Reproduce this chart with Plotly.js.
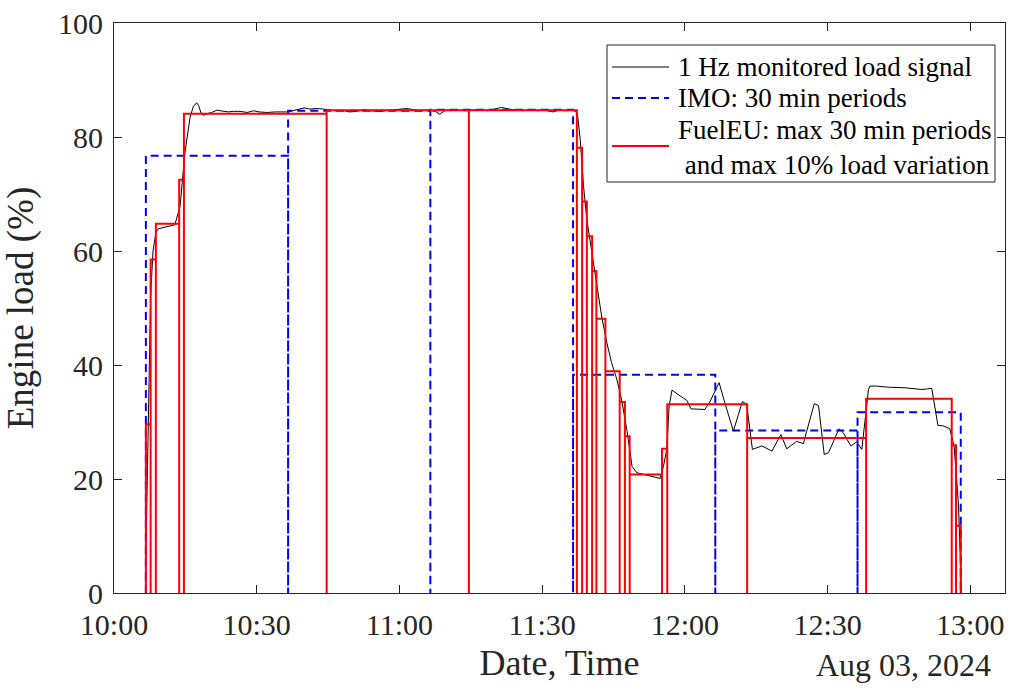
<!DOCTYPE html>
<html>
<head>
<meta charset="utf-8">
<script src="https://cdn.plot.ly/plotly-3.0.1.min.js"></script>
<style>html,body{margin:0;padding:0;background:#fff;}#chart{width:1022px;height:695px;}</style>
</head>
<body>
<div id="chart"></div>
<script>
// Minutes after 10:00 on 2024-08-03
const signalMinutes = [6.6, 6.9, 7.7, 8.2, 8.8, 9.3, 11.0, 12.8, 13.9, 14.9, 16.0, 16.7, 17.4, 17.8, 18.3, 18.8, 19.6, 20.5, 21.6, 23.0, 24.0, 25.1, 26.5, 28.0, 29.3, 30.5, 32.1, 34.0, 36.3, 37.5, 39.0, 40.0, 41.2, 42.5, 44.0, 45.0, 46.5, 48.0, 49.5, 51.0, 52.5, 54.0, 55.5, 57.0, 58.5, 60.0, 61.5, 63.0, 64.5, 66.0, 67.5, 68.5, 69.5, 71.0, 72.5, 74.0, 75.5, 77.0, 78.5, 80.0, 81.5, 83.0, 84.5, 86.0, 87.5, 89.0, 90.5, 92.3, 93.5, 95.0, 96.6, 97.4, 98.0, 98.7, 99.4, 100.4, 101.5, 102.5, 103.6, 104.6, 105.7, 106.7, 107.8, 108.9, 109.9, 111.3, 112.7, 114.8, 115.5, 116.2, 116.7, 117.3, 118.6, 120.4, 121.3, 124.2, 125.3, 127.2, 128.4, 130.2, 132.1, 133.0, 134.2, 136.2, 138.3, 140.2, 141.4, 143.5, 144.9, 147.2, 148.1, 149.3, 150.2, 152.4, 153.3, 154.9, 156.1, 157.2, 158.6, 158.9, 160.3, 162.8, 166.3, 169.8, 171.9, 173.2, 174.4, 175.7, 176.6, 177.5, 178.0, 178.1];
const signalLoad = [2, 14, 52, 60, 63.2, 63.9, 64.3, 64.6, 67.9, 77.2, 83.5, 85.4, 86.0, 85.5, 84.2, 83.8, 84.1, 84.3, 84.7, 84.6, 84.4, 84.5, 84.5, 84.3, 84.6, 84.4, 84.3, 84.4, 84.4, 84.6, 84.9, 85.1, 84.9, 85.0, 84.9, 84.8, 84.6, 84.7, 84.4, 84.5, 84.8, 84.6, 84.5, 84.6, 84.7, 84.9, 85.0, 84.8, 84.6, 84.7, 84.5, 84.0, 84.6, 84.8, 84.7, 84.6, 84.7, 84.8, 84.6, 84.9, 85.2, 84.9, 84.7, 84.6, 84.8, 84.6, 84.7, 84.4, 84.7, 84.6, 84.7, 84.2, 79.6, 71.4, 65.5, 60.3, 53.8, 48.6, 43.9, 40.4, 37.5, 33.9, 28.7, 22.2, 21.1, 20.8, 20.5, 20.1, 22.2, 25.2, 32.8, 35.6, 34.8, 33.8, 32.3, 32.2, 33.6, 36.9, 33.4, 28.4, 33.6, 33.1, 25.2, 25.8, 24.9, 27.8, 25.3, 26.6, 26.2, 33.2, 32.9, 24.3, 24.6, 28.8, 28.1, 25.8, 26.5, 25.2, 35.7, 36.3, 36.3, 36.1, 36.0, 35.7, 35.9, 29.4, 29.3, 28.8, 25.8, 15.8, 4.1, 0];

const imoBounds = [6.7, 36.6, 66.5, 96.5, 126.4, 156.3, 178.0];
const imoLoad = [76.7, 84.6, 84.8, 38.3, 28.5, 31.7];

const fuelBounds = [6.7, 7.7, 8.8, 13.7, 14.7, 44.7, 74.6, 97.3, 98.4, 99.4, 100.5, 101.4, 103.3, 106.3, 107.4, 108.4, 115.2, 116.3, 133.1, 158.1, 176.1, 177.0, 178.0];
const fuelLoad = [29.6, 58.5, 64.8, 72.5, 84.1, 84.7, 84.7, 78.1, 68.7, 62.6, 56.5, 48.1, 38.9, 33.5, 27.5, 20.8, 25.3, 33.1, 27.2, 34.1, 25.9, 11.8];

const yTicks = [0, 20, 40, 60, 80, 100];
const xTickLabels = ['10:00', '10:30', '11:00', '11:30', '12:00', '12:30', '13:00'];
const seriesNames = ['1 Hz monitored load signal', 'IMO: 30 min periods', 'FuelEU: max 30 min periods', ' and max 10% load variation'];

const base = Date.UTC(2024, 7, 3, 10, 0, 0);
function toTime(m) {
  return new Date(base + Math.round(m * 60000)).toISOString().replace('T', ' ').replace('Z', '');
}
function boxes(bounds, vals) {
  const xs = [], ys = [];
  for (let i = 0; i < vals.length; i++) {
    xs.push(toTime(bounds[i]), toTime(bounds[i]), toTime(bounds[i + 1]), toTime(bounds[i + 1]));
    ys.push(0, vals[i], vals[i], 0);
  }
  return {xs, ys};
}
const imo = boxes(imoBounds, imoLoad);
const fuel = boxes(fuelBounds, fuelLoad);
const tickVals = xTickLabels.map(s => '2024-08-03 ' + s + ':00');

const FONT = 'Liberation Serif, Times New Roman, serif';
const styles = [
  {color: '#000000', width: 1},
  {color: '#0000ff', width: 2, dash: '8px,5px'},
  {color: '#ff0000', width: 2}
];
const traces = [
  {x: signalMinutes.map(toTime), y: signalLoad, type: 'scatter', mode: 'lines',
   name: seriesNames[0], line: styles[0], showlegend: false},
  {x: imo.xs, y: imo.ys, type: 'scatter', mode: 'lines',
   name: seriesNames[1], line: styles[1], showlegend: false},
  {x: fuel.xs, y: fuel.ys, type: 'scatter', mode: 'lines',
   name: seriesNames[2] + seriesNames[3], line: styles[2], showlegend: false}
];

// Legend drawn as a boxed key (paper coordinates)
const P = (px) => (px - 114) / 891;
const Q = (py) => (593 - py) / 570;
const keyRows = [67, 98, 146];
const shapes = [
  {type: 'rect', xref: 'paper', yref: 'paper', x0: P(607), x1: P(995), y0: Q(182), y1: Q(45),
   fillcolor: '#ffffff', line: {color: '#262626', width: 1}, layer: 'above'}
];
keyRows.forEach((r, i) => {
  shapes.push({type: 'line', xref: 'paper', yref: 'paper', x0: P(612), x1: P(669), y0: Q(r), y1: Q(r),
    line: Object.assign({}, styles[i]), layer: 'above'});
});
const keyText = [
  {t: seriesNames[0], x: 676, y: 67},
  {t: seriesNames[1], x: 676, y: 98},
  {t: seriesNames[2], x: 676, y: 130},
  {t: seriesNames[3], x: 676, y: 165}
];
const annotations = keyText.map(k => ({text: k.t, xref: 'paper', yref: 'paper', x: P(k.x), y: Q(k.y),
  xanchor: 'left', yanchor: 'middle', showarrow: false,
  font: {family: FONT, size: 27, color: '#000000'}}));
annotations.push({text: 'Aug 03, 2024', xref: 'paper', yref: 'paper', x: 0.886, y: -0.126,
  xanchor: 'center', yanchor: 'middle', showarrow: false,
  font: {family: FONT, size: 32, color: '#262626'}});

const layout = {
  width: 1022, height: 695,
  margin: {l: 114, r: 17, t: 23, b: 102},
  paper_bgcolor: '#ffffff', plot_bgcolor: '#ffffff',
  font: {family: FONT, color: '#262626', size: 30},
  showlegend: false,
  xaxis: {type: 'date', range: [toTime(0), toTime(187.3)],
    tickvals: tickVals, ticktext: xTickLabels,
    ticks: 'inside', ticklen: 8, tickcolor: '#262626', tickwidth: 1,
    showline: true, linecolor: '#262626', linewidth: 1, mirror: 'ticks',
    showgrid: false, zeroline: false, ticklabelstandoff: 5,
    tickfont: {family: FONT, size: 30, color: '#262626'},
    title: {text: 'Date, Time', font: {family: FONT, size: 36, color: '#262626'}, standoff: 9}},
  yaxis: {range: [0, 100], tickvals: yTicks,
    ticks: 'inside', ticklen: 8, tickcolor: '#262626', tickwidth: 1,
    showline: true, linecolor: '#262626', linewidth: 1, mirror: 'ticks',
    showgrid: false, zeroline: false, ticklabelstandoff: 4,
    tickfont: {family: FONT, size: 30, color: '#262626'},
    title: {text: 'Engine load (%)', font: {family: FONT, size: 37, color: '#262626'}, standoff: 13}},
  shapes: shapes,
  annotations: annotations
};
Plotly.newPlot('chart', traces, layout, {displayModeBar: false, staticPlot: true});
</script>
</body>
</html>
